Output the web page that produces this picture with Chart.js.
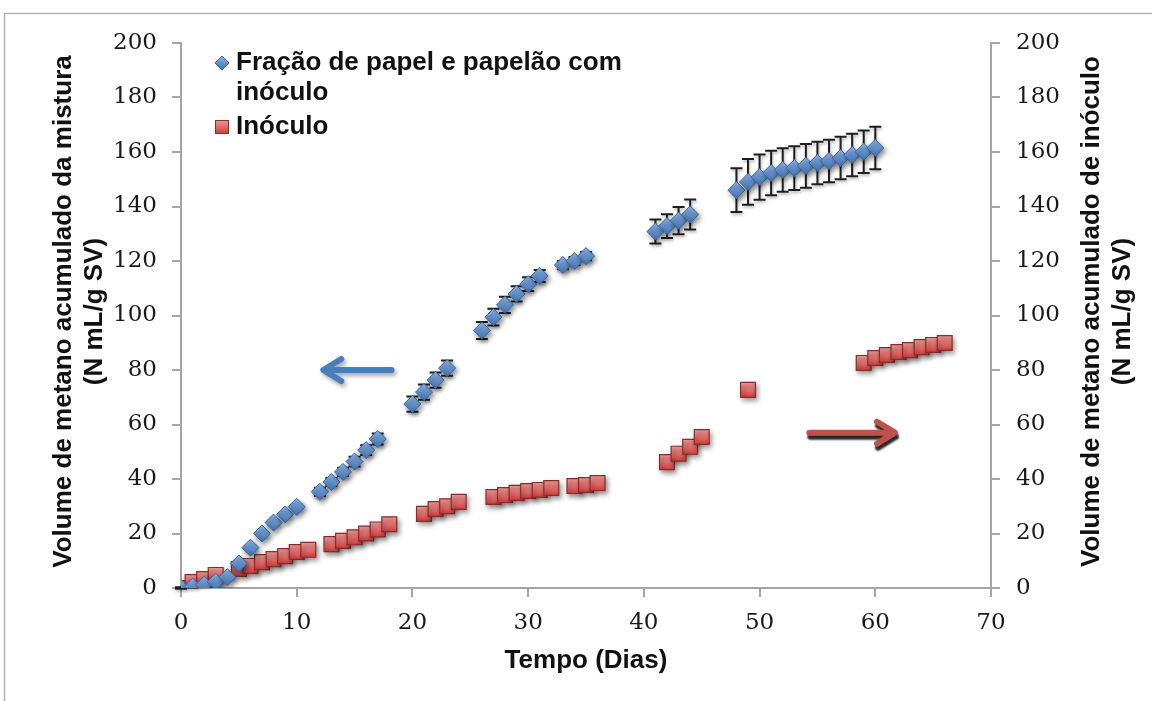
<!DOCTYPE html>
<html>
<head>
<meta charset="utf-8">
<script src="https://cdn.jsdelivr.net/npm/chart.js@4/dist/chart.umd.min.js"></script>
<style>
  html, body { margin: 0; padding: 0; background: #fff; }
  canvas { display: block; }
</style>
</head>
<body>
<canvas id="biogasChart" width="1152" height="701"></canvas>
<script>
// cumulative methane volume (N mL/g SV) per day
const blueDays = [0, 1, 2, 3, 4, 5, 6, 7, 8, 9, 10, 12, 13, 14, 15, 16, 17, 20, 21, 22, 23,
  26, 27, 28, 29, 30, 31, 33, 34, 35, 41, 42, 43, 44, 48, 49, 50, 51, 52, 53, 54, 55, 56, 57, 58, 59, 60];
const blueVals = [0, 0.5, 1.2, 2.3, 4, 9, 14.8, 20, 24, 27, 29.8, 35.3, 38.9, 42.6, 46.4, 50.6, 54.7,
  67.5, 71.9, 76.3, 80.7, 94.5, 99.4, 103.9, 107.9, 111.5, 114.5, 118.5, 120, 121.8,
  130.8, 132.8, 134.8, 137.1, 146, 149, 150.8, 152.3, 153.4, 154.1, 154.9, 156, 156.7, 157.8, 158.9, 160.1, 161.5];
const blueErr = [0.3, 0.3, 0.3, 0.3, 0.4, 0.7, 0.7, 0.7, 0.8, 0.8, 0.8, 1.5, 1.5, 1.5, 1.8, 1.8, 2,
  2.8, 2.8, 2.8, 2.8, 3.1, 3.1, 3, 2.8, 2.5, 2.2, 1.5, 1.5, 1.5,
  4.4, 4.4, 5, 5.5, 8, 8.4, 8.3, 8.2, 8, 8, 8, 7.8, 7.8, 7.8, 7.8, 7.8, 7.8];

const redDays = [0, 1, 2, 3, 5, 6, 7, 8, 9, 10, 11, 13, 14, 15, 16, 17, 18, 21, 22, 23, 24,
  27, 28, 29, 30, 31, 32, 34, 35, 36, 42, 43, 44, 45, 49, 59, 60, 61, 62, 63, 64, 65, 66];
const redVals = [0, 2.2, 3.3, 4.8, 7, 8.1, 9.5, 10.6, 11.7, 13.2, 14, 16.1, 17.3, 18.6, 20, 21.5, 23.4,
  27.2, 29, 30, 31.6, 33.4, 34.1, 34.9, 35.6, 36, 36.7, 37.4, 37.8, 38.5,
  46.2, 49.3, 51.8, 55.4, 72.7, 82.6, 84.4, 85.5, 86.6, 87.3, 88.4, 89.2, 89.9];

const xTicks = [0, 10, 20, 30, 40, 50, 60, 70];
const yTicks = [0, 20, 40, 60, 80, 100, 120, 140, 160, 180, 200];

const labelBlue = ["Fração de papel e papelão com", "inóculo"];
const labelRed = "Inóculo";
const titleX = "Tempo (Dias)";
const titleLeft = ["Volume de metano acumulado da mistura", "(N mL/g SV)"];
const titleRight = ["Volume de metano acumulado de inóculo", "(N mL/g SV)"];

const AXIS_GREY = "#a6a6a6";
const TITLE_FONT = 'bold 26px "Liberation Sans", Arial, sans-serif';
const TICK_FONT = { family: '"DejaVu Serif", serif', size: 23 };

function vGradient(ctx, y, r, top, bottom) {
  const g = ctx.createLinearGradient(0, y - r, 0, y + r);
  g.addColorStop(0, top);
  g.addColorStop(1, bottom);
  return g;
}

function pointFill(top, bottom, r, axis) {
  return (c) => {
    const chart = c.chart;
    const scale = chart.scales[axis];
    if (!scale || !c.raw) return bottom;
    const y = scale.getPixelForValue(c.raw.y);
    if (!isFinite(y)) return bottom;
    return vGradient(chart.ctx, y, r, top, bottom);
  };
}

function arrow(ctx, x1, y1, x2, y2, color) {
  const ang = Math.atan2(y2 - y1, x2 - x1);
  const len = 21, spread = 0.55;
  ctx.strokeStyle = color;
  ctx.lineWidth = 6;
  ctx.lineCap = "round";
  ctx.lineJoin = "round";
  ctx.beginPath();
  ctx.moveTo(x1, y1);
  ctx.lineTo(x2, y2);
  ctx.moveTo(x2 - len * Math.cos(ang - spread), y2 - len * Math.sin(ang - spread));
  ctx.lineTo(x2, y2);
  ctx.lineTo(x2 - len * Math.cos(ang + spread), y2 - len * Math.sin(ang + spread));
  ctx.stroke();
}

// soft drop shadow under the markers
const markerShadow = {
  id: "markerShadow",
  beforeDatasetDraw(chart) {
    const ctx = chart.ctx;
    ctx.save();
    ctx.shadowColor = "rgba(0,0,0,0.45)";
    ctx.shadowBlur = 5;
    ctx.shadowOffsetX = 2;
    ctx.shadowOffsetY = 3;
  },
  afterDatasetDraw(chart) {
    chart.ctx.restore();
  }
};

const decor = {
  id: "decor",
  beforeDraw(chart) {
    const ctx = chart.ctx;
    ctx.save();
    ctx.fillStyle = "#fff";
    ctx.fillRect(0, 0, chart.width, chart.height);
    ctx.strokeStyle = "#b0b0b0";
    ctx.lineWidth = 1.5;
    ctx.beginPath();
    ctx.moveTo(4.5, chart.height);
    ctx.lineTo(4.5, 13.5);
    ctx.lineTo(chart.width, 13.5);
    ctx.stroke();
    ctx.restore();
  },
  beforeDatasetsDraw(chart) {
    // error bars of the mixture series
    const ctx = chart.ctx;
    const xs = chart.scales.x, ys = chart.scales.y;
    ctx.save();
    ctx.strokeStyle = "#1e1e1e";
    ctx.lineWidth = 2;
    ctx.shadowColor = "rgba(0,0,0,0.3)";
    ctx.shadowBlur = 3;
    ctx.shadowOffsetX = 1;
    ctx.shadowOffsetY = 2;
    blueDays.forEach((d, i) => {
      const e = blueErr[i];
      if (!e) return;
      const x = xs.getPixelForValue(d);
      const yt = ys.getPixelForValue(blueVals[i] + e);
      const yb = ys.getPixelForValue(blueVals[i] - e);
      ctx.beginPath();
      ctx.moveTo(x, yt); ctx.lineTo(x, yb);
      ctx.moveTo(x - 6, yt); ctx.lineTo(x + 6, yt);
      ctx.moveTo(x - 6, yb); ctx.lineTo(x + 6, yb);
      ctx.stroke();
    });
    ctx.restore();
  },
  afterDraw(chart) {
    const ctx = chart.ctx;
    const area = chart.chartArea;
    const xs = chart.scales.x, ys = chart.scales.y;
    const midY = (area.top + area.bottom) / 2 - 4;

    // arrows pointing each series to its axis
    ctx.save();
    ctx.shadowColor = "rgba(0,0,0,0.35)";
    ctx.shadowBlur = 4;
    ctx.shadowOffsetX = 2;
    ctx.shadowOffsetY = 3;
    arrow(ctx, xs.getPixelForValue(18.2), ys.getPixelForValue(80),
      xs.getPixelForValue(12.3), ys.getPixelForValue(80), "#4a7ebb");
    ctx.shadowColor = "rgba(0,0,0,0.85)";
    ctx.shadowBlur = 2;
    ctx.shadowOffsetX = 1;
    ctx.shadowOffsetY = 4;
    arrow(ctx, xs.getPixelForValue(54.3), ys.getPixelForValue(57),
      xs.getPixelForValue(61.7), ys.getPixelForValue(57), "#c0504d");
    ctx.restore();

    // axis titles
    ctx.save();
    ctx.fillStyle = "#111";
    ctx.font = TITLE_FONT;
    ctx.textAlign = "center";
    ctx.textBaseline = "middle";
    ctx.fillText(titleX, (area.left + area.right) / 2, 661);
    [[titleLeft, 64], [titleRight, 1092]].forEach(([lines, x0]) => {
      lines.forEach((t, k) => {
        ctx.save();
        ctx.translate(x0 + k * 31, midY);
        ctx.rotate(-Math.PI / 2);
        ctx.fillText(t, 0, 0);
        ctx.restore();
      });
    });

    // legend
    ctx.textAlign = "left";
    ctx.fillText(labelBlue[0], 236, 63);
    ctx.fillText(labelBlue[1], 236, 93);
    ctx.fillText(labelRed, 236, 127);
    const r = 7;
    ctx.beginPath();
    ctx.moveTo(222, 63 - r); ctx.lineTo(222 + r, 63); ctx.lineTo(222, 63 + r); ctx.lineTo(222 - r, 63);
    ctx.closePath();
    ctx.fillStyle = vGradient(ctx, 63, r, "#8db3e2", "#3f72b5");
    ctx.fill();
    ctx.strokeStyle = "#3a66a0";
    ctx.lineWidth = 1;
    ctx.stroke();
    ctx.fillStyle = vGradient(ctx, 127, 7, "#f09a98", "#cc3b38");
    ctx.fillRect(215, 120, 14, 14);
    ctx.strokeStyle = "#8c2b29";
    ctx.strokeRect(215.5, 120.5, 13, 13);
    ctx.restore();
  }
};

const axisCommon = {
  min: 0,
  grid: { drawOnChartArea: false, drawTicks: true, tickLength: 9, color: AXIS_GREY, lineWidth: 2 },
  border: { color: AXIS_GREY, width: 2 },
  ticks: { color: "#1a1a1a", font: TICK_FONT }
};

new Chart(document.getElementById("biogasChart"), {
  type: "scatter",
  data: {
    datasets: [
      {
        label: labelBlue.join(" "),
        data: blueDays.map((d, i) => ({ x: d, y: blueVals[i] })),
        yAxisID: "y",
        pointStyle: "rectRot",
        pointRadius: 8.5,
        borderWidth: 1,
        borderColor: "#3a66a0",
        backgroundColor: pointFill("#8db3e2", "#3f72b5", 8.5, "y"),
        showLine: false
      },
      {
        label: labelRed,
        data: redDays.map((d, i) => ({ x: d, y: redVals[i] })),
        yAxisID: "y2",
        pointStyle: "rect",
        pointRadius: 10.5,
        borderWidth: 1.2,
        borderColor: "#8c2b29",
        backgroundColor: pointFill("#f2a09e", "#d23e3b", 7.5, "y2"),
        showLine: false
      }
    ]
  },
  options: {
    responsive: false,
    animation: false,
    events: [],
    layout: { padding: { top: 43, left: 0, right: 0, bottom: 0 } },
    plugins: { legend: { display: false }, tooltip: { enabled: false } },
    scales: {
      x: {
        ...axisCommon,
        type: "linear",
        max: 70,
        ticks: { ...axisCommon.ticks, padding: 12, maxRotation: 0 },
        afterBuildTicks: (s) => { s.ticks = xTicks.map((v) => ({ value: v })); },
        afterFit: (s) => { s.height = 113; }
      },
      y: {
        ...axisCommon,
        position: "left",
        max: 200,
        ticks: { ...axisCommon.ticks, padding: 15 },
        afterBuildTicks: (s) => { s.ticks = yTicks.map((v) => ({ value: v })); },
        afterFit: (s) => { s.width = 181; }
      },
      y2: {
        ...axisCommon,
        position: "right",
        max: 200,
        ticks: { ...axisCommon.ticks, padding: 16 },
        afterBuildTicks: (s) => { s.ticks = yTicks.map((v) => ({ value: v })); },
        afterFit: (s) => { s.width = 161; }
      }
    }
  },
  plugins: [markerShadow, decor]
});
</script>
</body>
</html>
